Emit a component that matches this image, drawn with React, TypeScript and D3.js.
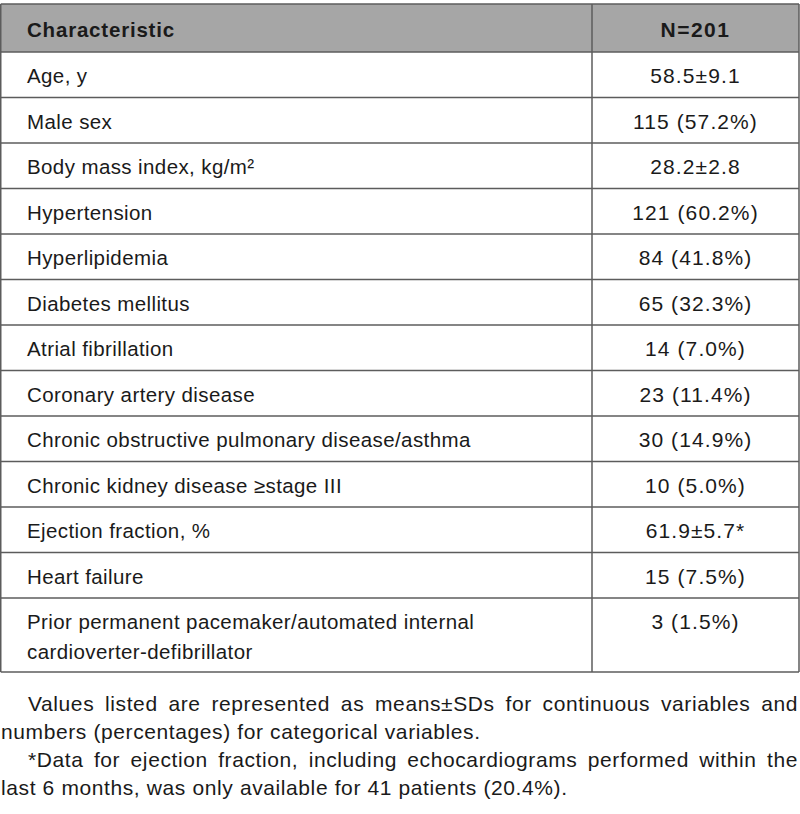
import React, { useRef, useEffect } from "react";
import * as d3 from "d3";

const header = ["Characteristic", "N=201"];

const characteristics = [
  "Age, y",
  "Male sex",
  "Body mass index, kg/m²",
  "Hypertension",
  "Hyperlipidemia",
  "Diabetes mellitus",
  "Atrial fibrillation",
  "Coronary artery disease",
  "Chronic obstructive pulmonary disease/asthma",
  "Chronic kidney disease ≥stage III",
  "Ejection fraction, %",
  "Heart failure",
  "Prior permanent pacemaker/automated internal\ncardioverter-defibrillator",
];

const values = [
  "58.5±9.1",
  "115 (57.2%)",
  "28.2±2.8",
  "121 (60.2%)",
  "84 (41.8%)",
  "65 (32.3%)",
  "14 (7.0%)",
  "23 (11.4%)",
  "30 (14.9%)",
  "10 (5.0%)",
  "61.9±5.7*",
  "15 (7.5%)",
  "3 (1.5%)",
];

// footnote lines, [text, indented, justified]
const notes: [string, boolean, boolean][] = [
  ["Values listed are represented as means±SDs for continuous variables and", true, true],
  ["numbers (percentages) for categorical variables.", false, false],
  ["*Data for ejection fraction, including echocardiograms performed within the", true, true],
  ["last 6 months, was only available for 41 patients (20.4%).", false, false],
];

const FONT = "'Liberation Sans', Arial, sans-serif";

const App = () => {
  const svgRef = useRef(null);

  const draw = () => {
    const W = 800;
    const H = 814;
    const svg = d3.select(svgRef.current);
    svg.selectAll("*").remove();
    svg.attr("width", W).attr("height", H);

    const left = 0.75;
    const right = 799;
    const colX = 592;
    const top = 4;
    const headH = 48;
    const rowH = 45.5;
    const lineStep = 30;
    const lineColor = "#5c5c5c";
    const ink = "#1a1a1a";

    /* row positions */
    const lines = characteristics.map((c) => c.split("\n"));
    const heights = lines.map((l) => rowH + (l.length - 1) * 28.5);
    const tops: number[] = [];
    let acc = top + headH;
    heights.forEach((h) => {
      tops.push(acc);
      acc += h;
    });
    const bottom = acc;

    /* header background */
    svg
      .append("rect")
      .attr("x", left)
      .attr("y", top)
      .attr("width", right - left)
      .attr("height", headH)
      .attr("fill", "#a6a6a6");

    /* header text */
    svg
      .append("text")
      .attr("x", 27)
      .attr("y", top + 33)
      .style("font-family", FONT)
      .style("font-size", "20.5px")
      .style("font-weight", "700")
      .style("letter-spacing", "0.8px")
      .attr("fill", ink)
      .text(header[0]);
    svg
      .append("text")
      .attr("x", (colX + right) / 2)
      .attr("y", top + 33)
      .attr("text-anchor", "middle")
      .style("font-family", FONT)
      .style("font-size", "21px")
      .style("font-weight", "700")
      .style("letter-spacing", "1.5px")
      .attr("fill", ink)
      .text(header[1]);

    /* body rows */
    const rows = svg
      .selectAll(".row")
      .data(characteristics)
      .enter()
      .append("g")
      .attr("class", "row")
      .attr("transform", (d, i) => `translate(0, ${tops[i]})`);

    rows
      .append("text")
      .attr("x", 27)
      .attr("y", 31)
      .style("font-family", FONT)
      .style("font-size", "20.5px")
      .style("letter-spacing", "0.4px")
      .attr("fill", ink)
      .selectAll("tspan")
      .data((d) => d.split("\n"))
      .enter()
      .append("tspan")
      .attr("x", 27)
      .attr("dy", (d, j) => (j === 0 ? 0 : lineStep))
      .text((d) => d);

    rows
      .append("text")
      .attr("x", (colX + right) / 2)
      .attr("y", 31)
      .attr("text-anchor", "middle")
      .style("font-family", FONT)
      .style("font-size", "21px")
      .style("letter-spacing", "1.1px")
      .attr("fill", ink)
      .text((d, i) => values[i]);

    /* horizontal rules */
    const ys = [top, top + headH, ...tops.slice(1), bottom];
    svg
      .selectAll(".hline")
      .data(ys)
      .enter()
      .append("line")
      .attr("class", "hline")
      .attr("x1", left)
      .attr("x2", right)
      .attr("y1", (d) => d)
      .attr("y2", (d) => d)
      .attr("stroke", lineColor)
      .attr("stroke-width", 1.5);

    /* vertical rules */
    [left, colX, right].forEach((x) => {
      svg
        .append("line")
        .attr("x1", x)
        .attr("x2", x)
        .attr("y1", top)
        .attr("y2", bottom)
        .attr("stroke", lineColor)
        .attr("stroke-width", 1.5);
    });

    /* footnotes, justified by hand */
    const noteY = [711, 739, 767, 795];
    notes.forEach(([text, indent, justify], i) => {
      const x0 = indent ? 28 : 1;
      const x1 = 798;
      const words = text.split(" ");
      const g = svg.append("g");
      const nodes = words.map((w) =>
        g
          .append("text")
          .attr("y", noteY[i])
          .style("font-family", FONT)
          .style("font-size", "21px")
          .style("letter-spacing", "0.6px")
          .attr("fill", ink)
          .text(w)
      );
      const widths = nodes.map((n) => (n.node() as SVGTextElement).getComputedTextLength());
      const total = d3.sum(widths);
      const gap = justify ? (x1 - x0 - total) / (words.length - 1) : 6.5;
      let x = x0;
      nodes.forEach((n, j) => {
        n.attr("x", x);
        x += widths[j] + gap;
      });
    });
  };

  useEffect(() => {
    document.body.style.margin = "0";
    draw();
  }, []);

  return (
    <div>
      <svg ref={svgRef} style={{ display: "block" }} />
    </div>
  );
};

export default App;
